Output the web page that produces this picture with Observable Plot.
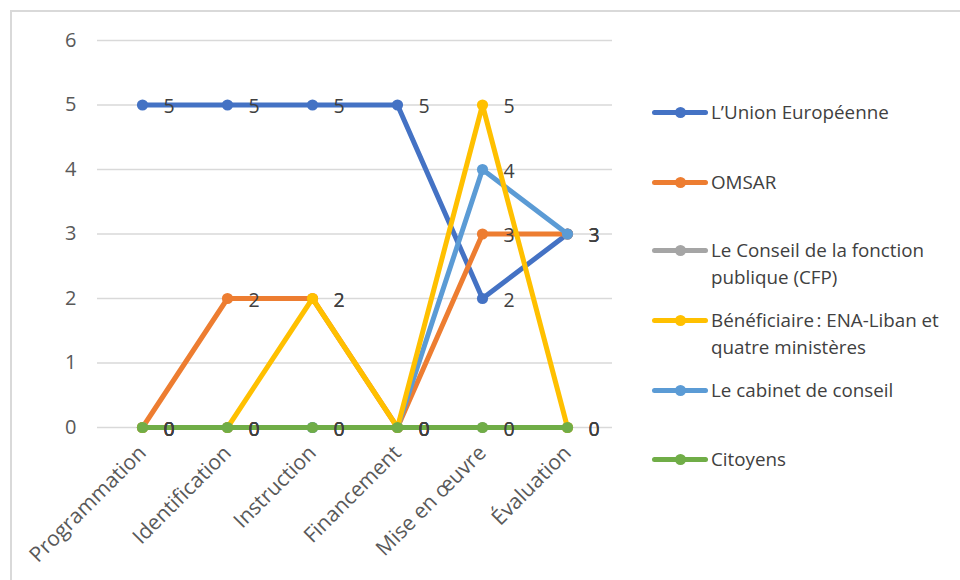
<!DOCTYPE html>
<html lang="fr">
<head>
<meta charset="utf-8">
<script src="https://cdn.jsdelivr.net/npm/d3@7"></script>
<script src="https://cdn.jsdelivr.net/npm/@observablehq/plot@0.6"></script>
<style>
  html, body { margin: 0; padding: 0; background: #fff; }
  #chart { position: relative; width: 960px; height: 580px; overflow: hidden; font-family: "Open Sans", "Noto Sans", sans-serif; }
  #frame { position: absolute; left: 10px; top: 10px; width: 1000px; height: 1000px; border-left: 2px solid #d9d9d9; border-top: 2px solid #d9d9d9; }
  #plot { position: absolute; left: 0; top: 0; }
  #plot svg g.y-ticks text { font-size: 20px !important; fill: #595959; }
  #plot svg g.x-ticks text { font-size: 21px !important; fill: #595959; }
  #plot svg g.value-labels text { font-size: 19.5px !important; fill: #404040; }
  #legend { position: absolute; left: 0; top: 0; width: 960px; height: 580px; pointer-events: none; }
  .item { position: absolute; left: 652px; display: flex; align-items: flex-start; }
  .key { position: relative; width: 56px; height: 24px; flex: none; }
  .key .ln { position: absolute; left: 0; right: 0; top: 9.5px; height: 5px; border-radius: 2.5px; }
  .key .pt { position: absolute; left: 22.5px; top: 6.5px; width: 11px; height: 11px; border-radius: 50%; }
  .lbl { margin-left: 3px; font-size: 18.8px; line-height: 27px; color: #404040; margin-top: -1.5px; white-space: nowrap; }
</style>
</head>
<body>
<div id="chart">
  <div id="frame"></div>
  <div id="plot"></div>
  <div id="legend"></div>
</div>
<script>
// Phases of the project cycle
const categories = ["Programmation", "Identification", "Instruction", "Financement", "Mise en œuvre", "Évaluation"];

// Actors and their involvement score at each phase
const seriesNames = [
  "L’Union Européenne",
  "OMSAR",
  "Le Conseil de la fonction publique (CFP)",
  "Bénéficiaire\u202F: ENA-Liban et quatre ministères",
  "Le cabinet de conseil",
  "Citoyens"
];
const unionEuropeenne = [5, 5, 5, 5, 2, 3];
const omsar = [0, 2, 2, 0, 3, 3];
const cfp = [0, 0, 0, 0, 0, 0];
const beneficiaire = [0, 0, 2, 0, 5, 0];
const cabinetConseil = [0, 0, 0, 0, 4, 3];
const citoyens = [0, 0, 0, 0, 0, 0];

const seriesValues = [unionEuropeenne, omsar, cfp, beneficiaire, cabinetConseil, citoyens];
const colors = ["#4472C4", "#ED7D31", "#A5A5A5", "#FFC000", "#5B9BD5", "#70AD47"];
const yTicks = [0, 1, 2, 3, 4, 5, 6];

// Stacking order of the series lines (the beneficiary line sits above the consultancy line)
const drawOrder = [0, 1, 2, 4, 3, 5];

// Legend entries as they wrap in the side panel
const legendLines = [
  ["L’Union Européenne"],
  ["OMSAR"],
  ["Le Conseil de la fonction", "publique (CFP)"],
  ["Bénéficiaire\u202F: ENA-Liban et", "quatre ministères"],
  ["Le cabinet de conseil"],
  ["Citoyens"]
];
const legendTops = [100, 170, 238, 308, 378, 447];

const rows = seriesNames.flatMap((name, i) =>
  categories.map((phase, j) => ({ series: name, phase, value: seriesValues[i][j] }))
);

const seriesMarks = drawOrder.flatMap(i => {
  const data = rows.filter(d => d.series === seriesNames[i]);
  return [
    Plot.line(data, { x: "phase", y: "value", stroke: colors[i], strokeWidth: 5, strokeLinejoin: "round", strokeLinecap: "round" }),
    Plot.dot(data, { x: "phase", y: "value", fill: colors[i], r: 5.6 })
  ];
});

const chart = Plot.plot({
  width: 620,
  height: 580,
  marginLeft: 97,
  marginRight: 8,
  marginTop: 40,
  marginBottom: 153,
  style: { fontFamily: "'Open Sans', 'Noto Sans', sans-serif", background: "transparent", color: "#595959" },
  x: { type: "point", domain: categories, padding: 0.5 },
  y: { domain: [0, 6] },
  marks: [
    Plot.ruleY(yTicks, { stroke: "#d9d9d9", strokeWidth: 1.6 }),
    Plot.axisY({ ticks: yTicks, tickFormat: d3.format("d"), tickSize: 0, tickPadding: 21, label: null, className: "y-ticks" }),
    Plot.axisX({ tickSize: 0, tickPadding: 22, tickRotate: -45, label: null, className: "x-ticks" }),
    ...seriesMarks,
    Plot.text(rows, { x: "phase", y: "value", text: d => String(d.value), dx: 21, dy: 2, textAnchor: "start", className: "value-labels" })
  ]
});
document.getElementById("plot").appendChild(chart);

// Side legend
const legend = document.getElementById("legend");
seriesNames.forEach((name, i) => {
  const item = document.createElement("div");
  item.className = "item";
  item.style.top = legendTops[i] + "px";
  const key = document.createElement("div");
  key.className = "key";
  const ln = document.createElement("div");
  ln.className = "ln";
  ln.style.background = colors[i];
  const pt = document.createElement("div");
  pt.className = "pt";
  pt.style.background = colors[i];
  key.append(ln, pt);
  const lbl = document.createElement("div");
  lbl.className = "lbl";
  lbl.innerHTML = legendLines[i].join("<br>");
  item.append(key, lbl);
  legend.appendChild(item);
});
</script>
</body>
</html>
